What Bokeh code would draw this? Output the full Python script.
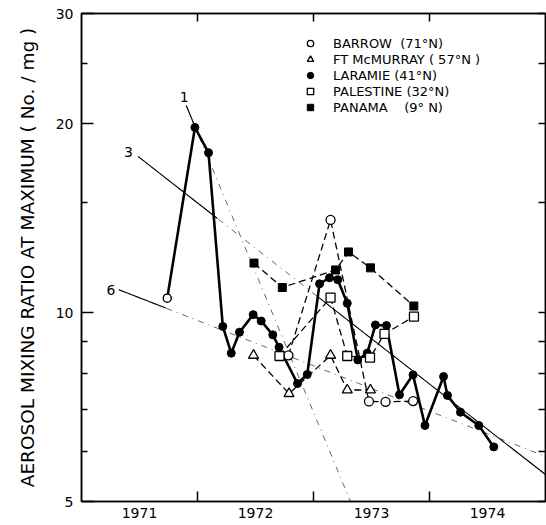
import math
from bokeh.plotting import figure
from bokeh.models import (Range1d, FixedTicker, LogAxis, LinearAxis, Legend,
                          LegendItem, BasicTickFormatter)
from bokeh.embed import file_html
from bokeh.resources import INLINE
from bokeh.core.properties import value

FONT = "DejaVu Sans"

# ---------------- data ----------------
year_ticks = [1971.5, 1972.5, 1973.5, 1974.5]
year_labels = ["1971", "1972", "1973", "1974"]
year_bounds = [1972, 1973, 1974]
y_major = [5, 10, 20, 30]
y_minor = [6, 7, 8, 9, 15, 25]

barrow_x = [1972.784, 1973.147, 1973.478, 1973.621, 1973.859]
barrow_y = [8.55, 14.06, 7.22, 7.21, 7.23]

mcmurray_x = [1972.483, 1972.789, 1973.147, 1973.291, 1973.491]
mcmurray_y = [8.55, 7.43, 8.55, 7.53, 7.53]

laramie_x = [1971.739, 1971.978, 1972.095, 1972.218, 1972.291, 1972.362, 1972.480,
             1972.549, 1972.649, 1972.703, 1972.862, 1972.946, 1973.052, 1973.138,
             1973.209, 1973.291, 1973.382, 1973.463, 1973.534, 1973.629, 1973.741,
             1973.858, 1973.961, 1974.121, 1974.155, 1974.267, 1974.425, 1974.554]
laramie_y = [10.55, 19.74, 18.0, 9.51, 8.62, 9.31, 9.93, 9.70, 9.22, 8.81,
             7.71, 7.97, 11.12, 11.37, 11.29, 10.35, 8.41, 8.62, 9.56, 9.54,
             7.40, 7.96, 6.61, 7.91, 7.38, 6.94, 6.61, 6.11]

palestine_x = [1972.707, 1973.147, 1973.291, 1973.487, 1973.612, 1973.866]
palestine_y = [8.53, 10.57, 8.53, 8.48, 9.25, 9.86]

panama_x = [1972.487, 1972.731, 1973.190, 1973.302, 1973.491, 1973.865]
panama_y = [12.0, 10.97, 11.70, 12.5, 11.79, 10.25]

# reference decay lines (labelled 1, 3, 6)
ref_labels = ["1", "3", "6"]
ref_x0 = [1971.903, 1971.487, 1971.322]
ref_y0 = [21.4, 17.75, 10.88]
ref_x1 = [1973.319, 1975.0, 1975.0]
ref_y1 = [5.0, 5.52, 5.90]

legend_labels = ["BARROW  (71°N)", "FT McMURRAY ( 57°N )", "LARAMIE (41°N)",
                 "PALESTINE (32°N)", "PANAMA    (9° N)"]

# ---------------- figure ----------------
p = figure(width=546, height=525, x_range=Range1d(1971, 1975), y_range=Range1d(5, 30),
           y_axis_type="log", output_backend="svg", toolbar_location=None,
           min_border_left=81, min_border_right=1, min_border_top=13, min_border_bottom=24)
p.background_fill_color = "white"
p.border_fill_color = "white"
p.outline_line_color = "black"
p.outline_line_width = 1.5
p.xgrid.visible = False
p.ygrid.visible = False

# bottom axis: labels centred in each year, tick marks on year boundaries
xa = p.xaxis[0]
xa.ticker = FixedTicker(ticks=year_ticks, minor_ticks=year_bounds)
xa.major_label_overrides = {t: l for t, l in zip(year_ticks, year_labels)}
xa.major_tick_in = 0
xa.major_tick_out = 0
xa.minor_tick_in = 10
xa.minor_tick_out = 0
xa.minor_tick_line_width = 1.5
xa.axis_line_width = 1.5
xa.major_label_standoff = 6
xa.major_label_text_font = FONT
xa.major_label_text_font_size = "14px"
xa.major_label_text_color = "black"

ya = p.yaxis[0]
ya.ticker = FixedTicker(ticks=y_major, minor_ticks=y_minor)
ya.formatter = BasicTickFormatter()
ya.major_tick_in = 12
ya.major_tick_out = 0
ya.minor_tick_in = 6
ya.minor_tick_out = 0
ya.major_tick_line_width = 1.5
ya.minor_tick_line_width = 1.5
ya.axis_line_width = 1.5
ya.major_label_standoff = 8
ya.major_label_text_font = FONT
ya.major_label_text_font_size = "14px"
ya.major_label_text_color = "black"
ya.axis_label = "AEROSOL MIXING RATIO AT MAXIMUM ( No. / mg )"
ya.axis_label_text_font = FONT
ya.axis_label_text_font_size = "18.5px"
ya.axis_label_text_font_style = "normal"
ya.axis_label_text_color = "black"
ya.axis_label_standoff = 15

# right and top axes: tick marks only (drawn as minor ticks, so no labels)
ra = LogAxis(ticker=FixedTicker(ticks=[], minor_ticks=y_major + y_minor),
             major_tick_in=0, major_tick_out=0, minor_tick_in=7, minor_tick_out=0,
             minor_tick_line_width=1.5, axis_line_width=1.5, major_label_standoff=0)
p.add_layout(ra, "right")

ta = LinearAxis(ticker=FixedTicker(ticks=[], minor_ticks=year_bounds),
                major_tick_in=0, major_tick_out=0, minor_tick_in=8, minor_tick_out=0,
                minor_tick_line_width=1.5, axis_line_width=1.5, major_label_standoff=0)
p.add_layout(ta, "above")

# ---------------- reference lines ----------------
def log_interp(x0, y0, x1, y1, x):
    t = (x - x0) / (x1 - x0)
    return 10 ** (math.log10(y0) + t * (math.log10(y1) - math.log10(y0)))

p.multi_line(xs=[[a, b] for a, b in zip(ref_x0, ref_x1)],
             ys=[[a, b] for a, b in zip(ref_y0, ref_y1)],
             line_color="black", line_width=1, line_dash="6 5 1 5", line_alpha=0.6)

solid_spans = [[(0.0, 0.07)], [(0.0, 0.195), (0.44, 1.0)], [(0.0, 0.11)]]
sx, sy = [], []
for i, spans in enumerate(solid_spans):
    for a, b in spans:
        xa_ = ref_x0[i] + a * (ref_x1[i] - ref_x0[i])
        xb_ = ref_x0[i] + b * (ref_x1[i] - ref_x0[i])
        sx.append([xa_, xb_])
        sy.append([log_interp(ref_x0[i], ref_y0[i], ref_x1[i], ref_y1[i], xa_),
                   log_interp(ref_x0[i], ref_y0[i], ref_x1[i], ref_y1[i], xb_)])
p.multi_line(xs=sx, ys=sy, line_color="black", line_width=1.1)

p.text(x=ref_x0, y=ref_y0, text=ref_labels, x_offset=[-2, -9.5, -8], y_offset=[-9, -4, 0],
       text_font=value(FONT), text_font_size="14px", text_align="center",
       text_baseline="middle", text_color="black")

# ---------------- series ----------------
DASH = "7 4"
p.line(barrow_x, barrow_y, line_color="black", line_width=1.3, line_dash=DASH)
p.line(mcmurray_x, mcmurray_y, line_color="black", line_width=1.3, line_dash=DASH)
p.line(palestine_x, palestine_y, line_color="black", line_width=1.3, line_dash=DASH)
p.line(panama_x, panama_y, line_color="black", line_width=1.3, line_dash=DASH)
p.line(laramie_x, laramie_y, line_color="black", line_width=2.6)

r_barrow = p.scatter(barrow_x, barrow_y, marker="circle", size=9, fill_color="white",
                     line_color="black", line_width=1.3)
r_mcm = p.scatter(mcmurray_x, mcmurray_y, marker="triangle", size=10, fill_color="white",
                  line_color="black", line_width=1.3)
r_lar = p.scatter(laramie_x, laramie_y, marker="circle", size=8, fill_color="black",
                  line_color="black", line_width=1)
p.scatter([laramie_x[0]], [laramie_y[0]], marker="circle", size=8, fill_color="white",
          line_color="black", line_width=1.3)
r_pal = p.scatter(palestine_x, palestine_y, marker="square", size=9, fill_color="white",
                  line_color="black", line_width=1.3)
r_pan = p.scatter(panama_x, panama_y, marker="square", size=8, fill_color="black",
                  line_color="black", line_width=1)

legend = Legend(items=[LegendItem(label=l, renderers=[r])
                       for l, r in zip(legend_labels, [r_barrow, r_mcm, r_lar, r_pal, r_pan])],
                location=(219, 386), orientation="vertical",
                glyph_width=20, glyph_height=16, label_height=16, spacing=0,
                label_standoff=13, padding=0, margin=0,
                border_line_color=None, background_fill_alpha=0,
                label_text_font=FONT, label_text_font_size="13px", label_text_color="black")
p.add_layout(legend)

open("out.html", "w").write(file_html(p, INLINE))
